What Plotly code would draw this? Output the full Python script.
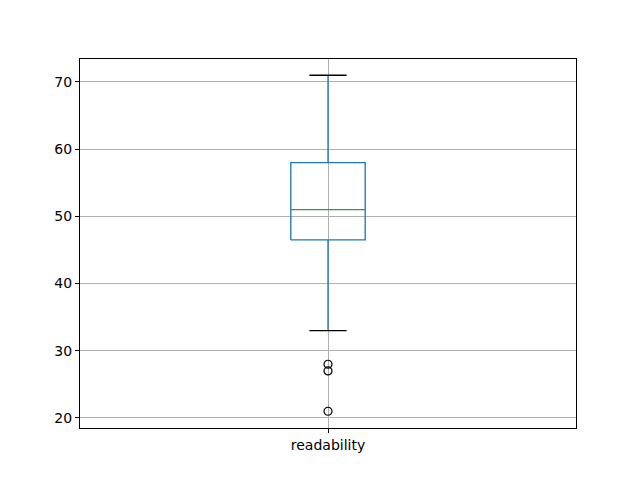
import plotly.graph_objects as go

category = "readability"
q1 = 46.5
median = 51.0
q3 = 58.0
whisker_low = 33.0
whisker_high = 71.0
outliers = [28.0, 27.0, 21.0]

pos = 1.0
box_w = 0.15
cap_w = box_w / 2

blue = "#1f77b4"
green = "#2ca02c"
lw = 1.33

fig = go.Figure()
# box
fig.add_trace(go.Scatter(
    x=[pos - box_w / 2, pos + box_w / 2, pos + box_w / 2, pos - box_w / 2, pos - box_w / 2],
    y=[q1, q1, q3, q3, q1], mode="lines", line=dict(color=blue, width=lw),
    hoverinfo="skip", showlegend=False))
# whiskers
fig.add_trace(go.Scatter(x=[pos, pos], y=[q1, whisker_low], mode="lines",
                         line=dict(color=blue, width=lw), showlegend=False))
fig.add_trace(go.Scatter(x=[pos, pos], y=[q3, whisker_high], mode="lines",
                         line=dict(color=blue, width=lw), showlegend=False))
# caps
for v in (whisker_low, whisker_high):
    fig.add_trace(go.Scatter(x=[pos - cap_w / 2, pos + cap_w / 2], y=[v, v], mode="lines",
                             line=dict(color="black", width=lw), showlegend=False))
# median
fig.add_trace(go.Scatter(x=[pos - box_w / 2, pos + box_w / 2], y=[median, median], mode="lines",
                         line=dict(color=green, width=lw), showlegend=False))
# outliers
fig.add_trace(go.Scatter(x=[pos] * len(outliers), y=outliers, mode="markers",
                         marker=dict(symbol="circle-open", size=8, color="black",
                                     line=dict(width=1.2, color="black")),
                         showlegend=False))

axis_common = dict(showline=True, linecolor="black", linewidth=1, mirror=True,
                   ticks="outside", ticklen=4, tickcolor="black", tickwidth=1,
                   showgrid=True, gridcolor="#b0b0b0", gridwidth=0.8, zeroline=False,
                   tickfont=dict(color="black", size=14, family="DejaVu Sans"))

fig.update_layout(
    width=640, height=480,
    margin=dict(l=72, r=72, t=51, b=60),
    paper_bgcolor="white", plot_bgcolor="white",
    xaxis=dict(range=[0.5, 1.5], tickvals=[pos], ticktext=[category], **axis_common),
    yaxis=dict(range=[18.51, 73.42], tickvals=[20, 30, 40, 50, 60, 70], **axis_common),
    font=dict(family="DejaVu Sans", color="black"),
)

fig.write_html("out.html")
